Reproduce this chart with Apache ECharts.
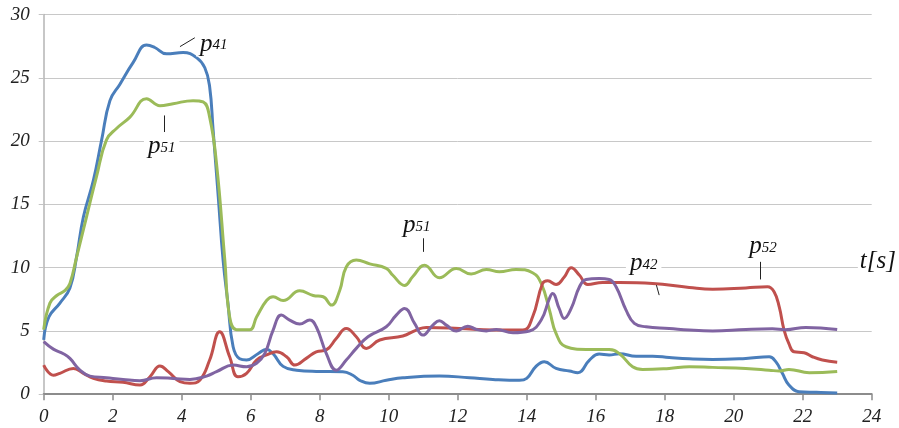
<!DOCTYPE html>
<html>
<head>
<meta charset="utf-8">
<script src="https://cdn.jsdelivr.net/npm/echarts@6/dist/echarts.min.js"></script>
<style>
  html, body { margin: 0; padding: 0; background: #fff; }
  #chart { width: 899px; height: 428px; }
</style>
</head>
<body>
<div id="chart"></div>
<script>
// Pressure traces over time, t [s]
const xTicks = [0, 2, 4, 6, 8, 10, 12, 14, 16, 18, 20, 22, 24];
const yTicks = [0, 5, 10, 15, 20, 25, 30];

// p41 (blue)
const p41T = [0, 0.15, 0.47, 0.76, 0.95, 1.15, 1.44, 1.68, 1.92, 2.21, 2.59, 2.98, 3.22, 3.56, 4.04, 4.43, 4.67, 4.81, 4.91, 5.06, 5.2, 5.34, 5.49, 5.68, 5.88, 6.21, 6.46, 6.65, 6.94, 7.33, 7.9, 8.67, 8.96, 9.16, 9.45, 9.93, 10.41, 11.47, 12.34, 13.02, 13.79, 14.0, 14.27, 14.51, 14.85, 15.24, 15.48, 15.82, 16.1, 16.39, 16.69, 17.17, 17.65, 18.13, 18.71, 19.39, 20.35, 21.03, 21.22, 21.41, 21.6, 21.89, 22.4, 23.0];
const p41V = [4.3, 6.1, 7.2, 8.4, 10.8, 14.0, 16.9, 20.1, 23.2, 24.5, 26.2, 27.6, 27.4, 26.9, 27.0, 26.6, 25.8, 24.3, 20.9, 15.6, 10.6, 7.2, 3.75, 2.8, 2.7, 3.2, 3.55, 3.2, 2.2, 1.9, 1.8, 1.78, 1.5, 1.1, 0.86, 1.1, 1.3, 1.44, 1.3, 1.17, 1.1, 1.25, 2.2, 2.57, 2.04, 1.83, 1.7, 2.7, 3.17, 3.1, 3.2, 3.0, 3.0, 2.9, 2.8, 2.75, 2.83, 2.96, 2.57, 1.65, 0.73, 0.2, 0.15, 0.1];

// p51 (green)
const p51T = [0, 0.18, 0.38, 0.62, 0.76, 0.95, 1.24, 1.53, 1.82, 2.11, 2.5, 2.98, 3.37, 3.75, 4.33, 4.62, 4.81, 5.01, 5.25, 5.39, 5.59, 5.97, 6.17, 6.46, 6.65, 6.94, 7.42, 7.81, 8.1, 8.34, 8.58, 8.77, 9.06, 9.45, 9.93, 10.12, 10.46, 10.7, 11.04, 11.47, 11.96, 12.39, 12.83, 13.21, 13.69, 14.17, 14.42, 14.66, 14.85, 15.14, 15.72, 16.39, 16.69, 17.07, 17.36, 18.13, 18.71, 19.39, 20.35, 21.03, 21.32, 21.6, 22.19, 23.0];
const p51V = [5.1, 7.2, 7.8, 8.2, 8.75, 10.8, 14.0, 17.2, 20.1, 21.0, 21.9, 23.35, 22.8, 22.96, 23.2, 23.1, 21.9, 18.2, 10.6, 6.1, 5.1, 5.1, 6.1, 7.4, 7.7, 7.4, 8.17, 7.8, 7.7, 7.04, 8.2, 10.06, 10.6, 10.3, 9.94, 9.4, 8.6, 9.3, 10.2, 9.2, 9.94, 9.5, 9.86, 9.67, 9.86, 9.6, 8.75, 6.65, 4.8, 3.75, 3.54, 3.54, 3.2, 2.17, 1.96, 2.04, 2.17, 2.12, 2.04, 1.9, 1.83, 1.96, 1.7, 1.8];

// p42 (red)
const p42T = [0, 0.28, 0.47, 0.86, 1.15, 1.44, 1.82, 2.3, 2.79, 3.08, 3.37, 3.61, 3.95, 4.24, 4.53, 4.81, 5.1, 5.39, 5.63, 5.88, 6.17, 6.46, 6.75, 7.04, 7.28, 7.61, 7.9, 8.19, 8.48, 8.77, 9.06, 9.35, 9.74, 10.41, 10.8, 11.09, 12.05, 13.02, 13.89, 14.17, 14.46, 14.61, 14.85, 15.09, 15.29, 15.53, 15.77, 16.2, 16.69, 17.65, 18.71, 19.39, 20.35, 20.98, 21.17, 21.32, 21.46, 21.6, 21.75, 22.04, 22.28, 22.57, 23.0];
const p42V = [2.3, 1.5, 1.65, 2.04, 1.65, 1.25, 1.04, 0.94, 0.73, 1.38, 2.22, 1.78, 0.99, 0.86, 1.12, 2.7, 4.93, 2.96, 1.38, 1.65, 2.7, 3.1, 3.35, 2.96, 2.3, 2.83, 3.35, 3.5, 4.4, 5.2, 4.54, 3.62, 4.28, 4.6, 5.07, 5.28, 5.2, 5.07, 5.07, 6.1, 8.75, 8.96, 8.67, 9.27, 10.0, 9.4, 8.67, 8.83, 8.83, 8.75, 8.44, 8.3, 8.4, 8.49, 8.1, 6.9, 5.07, 4.0, 3.35, 3.28, 2.96, 2.7, 2.52];

// p52 (purple)
const p52T = [0, 0.28, 0.57, 0.76, 1.05, 1.34, 1.82, 2.3, 2.79, 3.27, 3.75, 4.24, 4.72, 5.01, 5.49, 5.88, 6.17, 6.41, 6.65, 6.89, 7.13, 7.42, 7.71, 7.9, 8.19, 8.48, 8.77, 9.06, 9.4, 9.93, 10.22, 10.46, 10.75, 10.99, 11.28, 11.47, 11.67, 11.96, 12.29, 12.54, 12.83, 13.12, 13.6, 14.08, 14.42, 14.66, 14.75, 14.94, 15.09, 15.29, 15.53, 15.72, 16.1, 16.39, 16.59, 16.88, 17.12, 17.46, 18.13, 18.71, 19.39, 20.35, 21.12, 21.5, 22.09, 23.0];
const p52V = [4.15, 3.56, 3.2, 2.83, 1.9, 1.43, 1.3, 1.17, 1.07, 1.3, 1.25, 1.17, 1.43, 1.78, 2.3, 2.17, 2.44, 3.23, 5.07, 6.25, 5.86, 5.54, 5.86, 5.33, 3.23, 1.9, 2.7, 3.62, 4.54, 5.33, 6.25, 6.78, 5.6, 4.67, 5.46, 5.8, 5.46, 5.0, 5.38, 5.12, 5.0, 5.12, 4.86, 5.0, 5.86, 7.57, 7.96, 6.78, 5.99, 6.78, 8.49, 9.07, 9.15, 9.07, 8.49, 6.65, 5.6, 5.33, 5.2, 5.07, 5.0, 5.12, 5.17, 5.1, 5.28, 5.12];

// Curve annotations: name, subscript, anchor (t, value) and leader lines
const tagNames = ['p', 'p', 'p', 'p', 'p'];
const tagSubs = ['41', '51', '51', '42', '52'];
const tagT = [4.93, 3.42, 10.81, 17.39, 20.85];
const tagV = [27.72, 19.6, 13.35, 10.35, 11.7];
const leaders = [
  [[3.95, 27.47], [4.38, 28.17]],
  [[3.49, 22.03], [3.49, 20.72]],
  [[11.01, 12.57], [11.01, 11.25]],
  [[17.76, 8.62], [17.84, 7.83]],
  [[20.77, 10.46], [20.77, 9.07]]
];
const axisTitle = 't[s]';
const axisTitlePos = [24.18, 10.5];

const serif = '"Liberation Serif", "DejaVu Serif", serif';
const pair = (ts, vs) => ts.map((t, i) => [t, vs[i]]);

function curve(name, color, ts, vs) {
  return {
    name, type: 'line', data: pair(ts, vs),
    smooth: 0.45, showSymbol: false, symbol: 'none',
    lineStyle: { color, width: 3 }, itemStyle: { color },
    z: 3, silent: true
  };
}

const labelRich = {
  p: { fontFamily: serif, fontStyle: 'italic', fontSize: 25, color: '#111', lineHeight: 26, verticalAlign: 'bottom' },
  s: { fontFamily: serif, fontStyle: 'italic', fontSize: 15, color: '#111', lineHeight: 26, verticalAlign: 'bottom', padding: [0, 0, 4, 0] },
  t: { fontFamily: serif, fontStyle: 'italic', fontSize: 25, color: '#111', lineHeight: 26 }
};

const tagPoints = tagNames.map((n, i) => ({
  coord: [tagT[i], tagV[i]],
  label: { formatter: '{p|' + n + '}{s|' + tagSubs[i] + '}' }
}));

const chart = echarts.init(document.getElementById('chart'), null, { renderer: 'canvas' });
chart.setOption({
  animation: false,
  backgroundColor: '#fff',
  grid: { left: 43.7, right: 27.3, top: 14.6, bottom: 33.8, containLabel: false, outerBoundsMode: 'none' },
  xAxis: {
    type: 'value', min: xTicks[0], max: xTicks[xTicks.length - 1], interval: 2,
    axisLine: { show: true, onZero: false, lineStyle: { color: '#8c8c8c', width: 2 } },
    axisTick: { show: true, length: 6, lineStyle: { color: '#8c8c8c', width: 1.5 } },
    axisLabel: { fontFamily: serif, fontStyle: 'italic', fontSize: 19, color: '#222', margin: 13 },
    splitLine: { show: false }
  },
  yAxis: {
    type: 'value', min: yTicks[0], max: yTicks[yTicks.length - 1], interval: 5,
    axisLine: { show: true, lineStyle: { color: '#b4b4b4', width: 1.5 } },
    axisTick: { show: true, length: 5, lineStyle: { color: '#c4c4c4', width: 1 } },
    axisLabel: { fontFamily: serif, fontStyle: 'italic', fontSize: 19, color: '#222', margin: 14 },
    splitLine: { show: true, lineStyle: { color: '#c8c8c8', width: 1 } }
  },
  series: [
    curve('p41', '#4a7ebb', p41T, p41V),
    curve('p51', '#9bbb59', p51T, p51V),
    curve('p42', '#c0504d', p42T, p42V),
    curve('p52', '#8064a2', p52T, p52V),
    {
      name: 'notes', type: 'line', data: [], silent: true, z: 5,
      markPoint: {
        symbol: 'circle', symbolSize: 0, silent: true,
        label: {
          show: true, position: 'inside',
          backgroundColor: '#fff', padding: [0, 4, 0, 4],
          rich: labelRich
        },
        data: tagPoints
      },
      markLine: {
        symbol: ['none', 'none'], silent: true,
        label: { show: false },
        lineStyle: { color: '#222', width: 1, type: 'solid' },
        data: leaders.map(l => [{ coord: l[0] }, { coord: l[1] }])
      }
    }
  ]
});

// Axis title placed at its data position, to the right of the plot
const titlePx = chart.convertToPixel({ gridIndex: 0 }, axisTitlePos);
chart.setOption({
  graphic: [{
    type: 'text', x: titlePx[0], y: titlePx[1], z: 10, silent: true,
    style: {
      text: axisTitle, fill: '#111', font: 'italic 25px ' + serif,
      align: 'center', verticalAlign: 'middle', backgroundColor: '#fff', padding: [0, 2, 0, 2]
    }
  }]
});
</script>
</body>
</html>
